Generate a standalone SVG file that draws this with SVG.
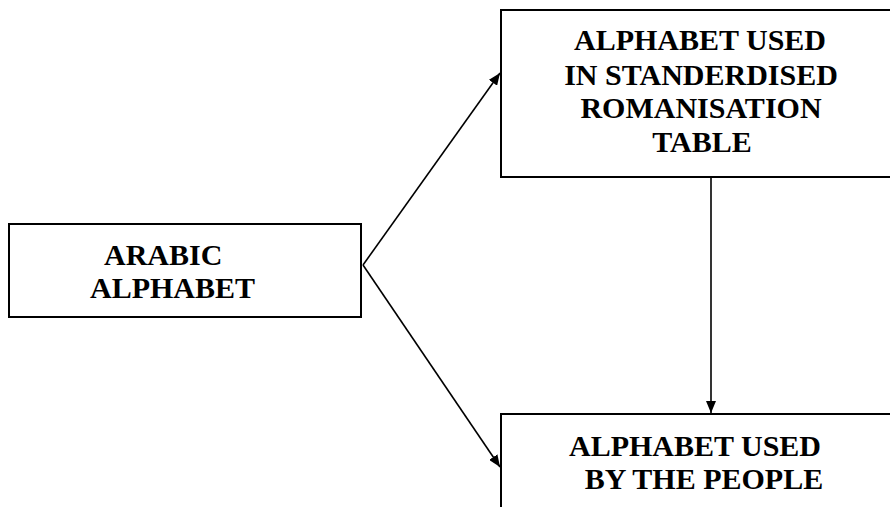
<svg xmlns="http://www.w3.org/2000/svg" width="890" height="507" viewBox="0 0 890 507">
<style>
.box{fill:#fff;stroke:#000;stroke-width:2}
.t{font-family:"Liberation Serif","Times New Roman",serif;font-weight:bold;font-size:30px;fill:#000}
.c{text-anchor:middle}
.ln{stroke:#000;stroke-width:1.6;fill:none}
</style>
<defs>
<marker id="ah" viewBox="0 0 12 10" refX="12" refY="5" markerWidth="12" markerHeight="10" markerUnits="userSpaceOnUse" orient="auto">
<path d="M0,0 L12,5 L0,10 Z" fill="#000"/>
</marker>
</defs>
<g id="node-arabic">
<rect class="box" x="9" y="224" width="352" height="93"/>
<text class="t" x="104" y="265">ARABIC</text>
<text class="t" x="90" y="298">ALPHABET</text>
</g>
<g id="node-table">
<rect class="box" x="501" y="10" width="395" height="167"/>
<text class="t c" x="700" y="50">ALPHABET USED</text>
<text class="t c" x="701" y="85">IN STANDERDISED</text>
<text class="t c" x="701" y="118">ROMANISATION</text>
<text class="t c" x="702" y="152">TABLE</text>
</g>
<g id="node-people">
<rect class="box" x="501" y="414" width="395" height="110"/>
<text class="t c" x="695" y="456">ALPHABET USED</text>
<text class="t c" x="704" y="489">BY THE PEOPLE</text>
</g>
<g id="connectors">
<line class="ln" x1="363" y1="265" x2="500" y2="73" marker-end="url(#ah)"/>
<line class="ln" x1="363" y1="265" x2="500" y2="467" marker-end="url(#ah)"/>
<line class="ln" x1="711" y1="177" x2="711" y2="413" marker-end="url(#ah)"/>
</g>
</svg>
